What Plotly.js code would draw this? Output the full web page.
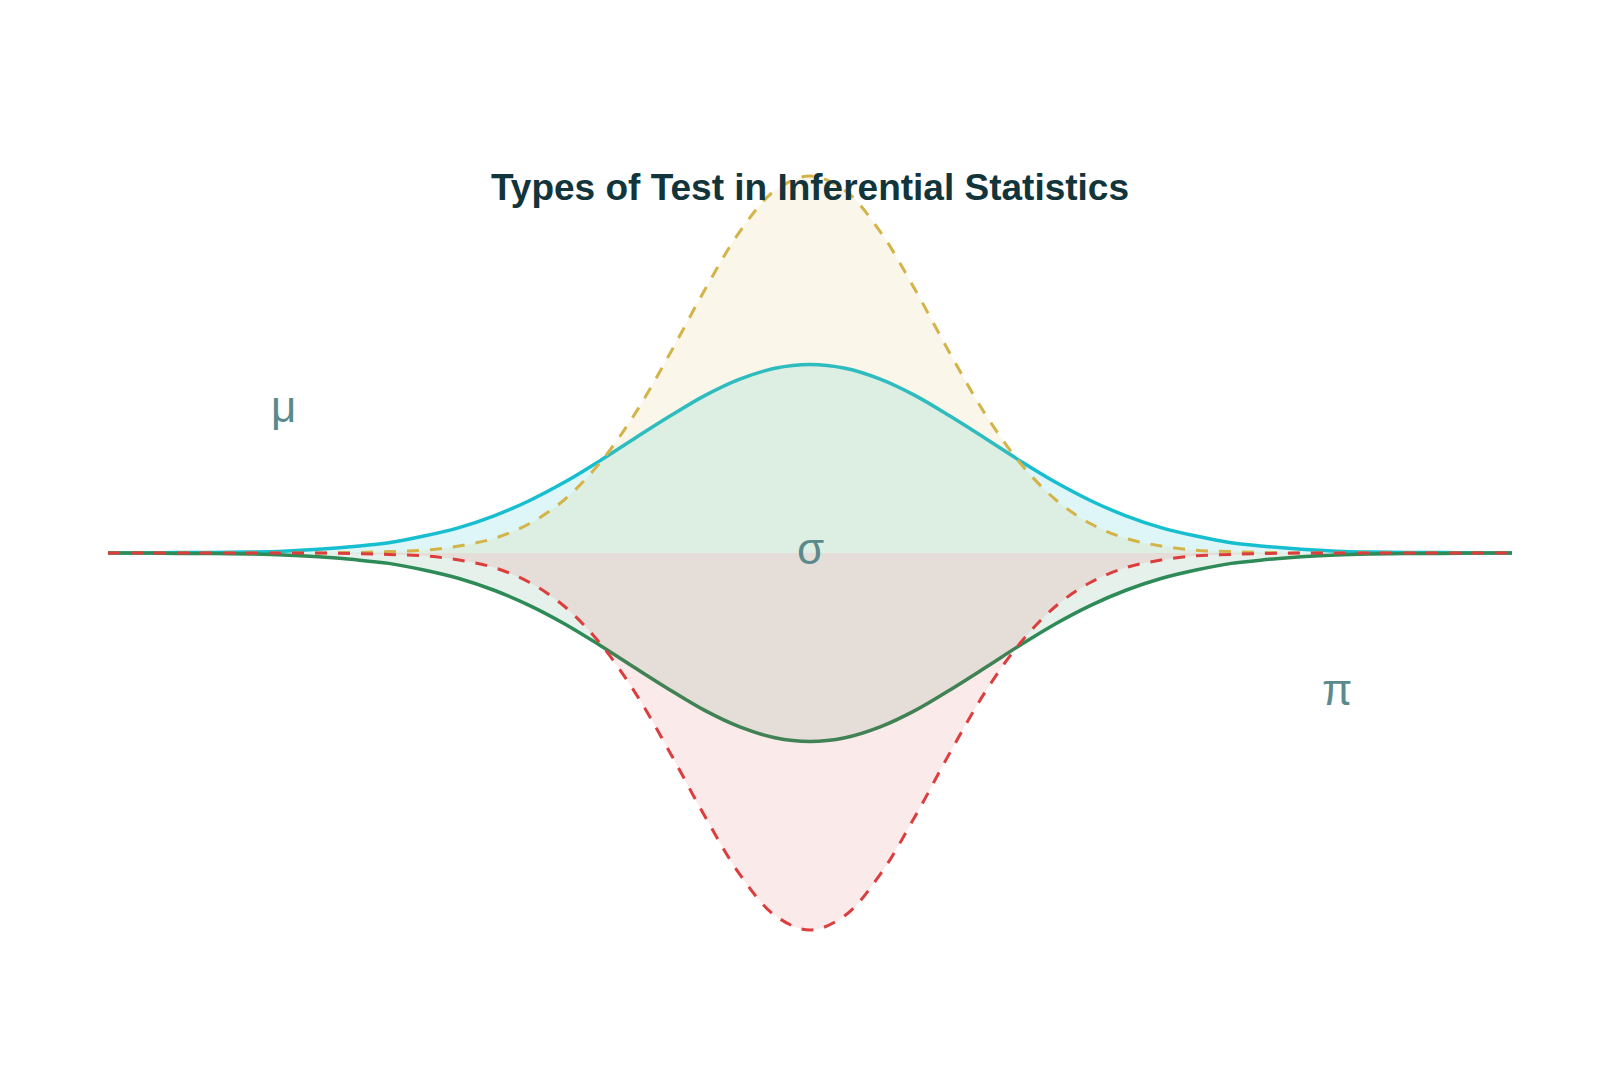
<!DOCTYPE html>
<html>
<head>
<meta charset="utf-8">
<script src="https://cdn.plot.ly/plotly-3.0.1.min.js"></script>
<style>
  html, body { margin: 0; padding: 0; background: #ffffff; }
  #chart { width: 1620px; height: 1080px; }
</style>
</head>
<body>
<div id="chart"></div>
<script>
const xValues = [-4.0, -3.8, -3.6, -3.4, -3.2, -3.0, -2.8, -2.6, -2.4, -2.2, -2.0, -1.8, -1.6, -1.4, -1.2, -1.0, -0.8, -0.6, -0.4, -0.2,
  0.0, 0.2, 0.4, 0.6, 0.8, 1.0, 1.2, 1.4, 1.6, 1.8, 2.0, 2.2, 2.4, 2.6, 2.8, 3.0, 3.2, 3.4, 3.6, 3.8, 4.0];

// wide upper curve (solid cyan)
const wideUpper = [0.000, 0.000, 0.001, 0.001, 0.002, 0.004, 0.008, 0.014, 0.022, 0.036, 0.054, 0.079, 0.111, 0.150, 0.195, 0.243, 0.290, 0.334, 0.369, 0.392,
  0.400, 0.392, 0.369, 0.334, 0.290, 0.243, 0.195, 0.150, 0.111, 0.079, 0.054, 0.036, 0.022, 0.014, 0.008, 0.004, 0.002, 0.001, 0.001, 0.000, 0.000];

// narrow upper curve (dashed gold)
const narrowUpper = [0.000, 0.000, 0.000, 0.000, 0.000, 0.000, 0.000, 0.001, 0.003, 0.006, 0.015, 0.031, 0.062, 0.113, 0.190, 0.294, 0.422, 0.558, 0.682, 0.769,
  0.800, 0.769, 0.682, 0.558, 0.422, 0.294, 0.190, 0.113, 0.062, 0.031, 0.015, 0.006, 0.003, 0.001, 0.000, 0.000, 0.000, 0.000, 0.000, 0.000, 0.000];

// wide lower curve (solid green)
const wideLower = [-0.000, -0.000, -0.001, -0.001, -0.002, -0.004, -0.008, -0.014, -0.022, -0.036, -0.054, -0.079, -0.111, -0.150, -0.195, -0.243, -0.290, -0.334, -0.369, -0.392,
  -0.400, -0.392, -0.369, -0.334, -0.290, -0.243, -0.195, -0.150, -0.111, -0.079, -0.054, -0.036, -0.022, -0.014, -0.008, -0.004, -0.002, -0.001, -0.001, -0.000, -0.000];

// narrow lower curve (dashed red)
const narrowLower = [-0.000, -0.000, -0.000, -0.000, -0.000, -0.000, -0.000, -0.001, -0.003, -0.006, -0.015, -0.031, -0.062, -0.113, -0.190, -0.294, -0.422, -0.558, -0.682, -0.769,
  -0.800, -0.769, -0.682, -0.558, -0.422, -0.294, -0.190, -0.113, -0.062, -0.031, -0.015, -0.006, -0.003, -0.001, -0.000, -0.000, -0.000, -0.000, -0.000, -0.000, -0.000];

const symbolLabels = ["μ", "σ", "π"];
const symbolX = [-3, 0, 3];
const symbolY = [0.3, 0, -0.3];

const titleText = "Types of Test in Inferential Statistics";

function curve(y, color, fill, dash, width) {
  return {
    x: xValues,
    y: y,
    type: "scatter",
    mode: "lines",
    fill: "tozeroy",
    fillcolor: fill,
    line: { color: color, width: width, dash: dash, shape: "spline", smoothing: 1 },
    hoverinfo: "skip",
  };
}

const traces = [
  curve(wideUpper, "#17becf", "rgba(23,190,207,0.14)", "solid", 3.5),
  curve(narrowUpper, "#d4b448", "rgba(212,180,72,0.12)", "12px,11px", 3),
  curve(wideLower, "#2e8b57", "rgba(46,139,87,0.12)", "solid", 3.5),
  curve(narrowLower, "#dc3d3d", "rgba(220,61,61,0.11)", "12px,11px", 3),
];

const annotations = symbolLabels.map((label, i) => ({
  x: symbolX[i],
  y: symbolY[i],
  xref: "x",
  yref: "y",
  yshift: 5,
  text: label,
  showarrow: false,
  font: { family: "Liberation Sans, Arial, sans-serif", size: 44, color: "#5b8a8c" },
}));

const layout = {
  width: 1620,
  height: 1080,
  paper_bgcolor: "#ffffff",
  plot_bgcolor: "#ffffff",
  margin: { l: 108, r: 108, t: 100, b: 80 },
  showlegend: false,
  title: {
    text: titleText,
    x: 0.5,
    xanchor: "center",
    y: 0.827,
    yanchor: "middle",
    yref: "container",
    font: { family: "Liberation Sans, Arial, sans-serif", size: 37, color: "#12343b", weight: 700 },
  },
  xaxis: { range: [-4, 4], visible: false, showgrid: false, zeroline: false },
  yaxis: { range: [-0.9485, 0.9613], visible: false, showgrid: false, zeroline: false },
  annotations: annotations,
};

Plotly.newPlot("chart", traces, layout, { displayModeBar: false, staticPlot: true });
</script>
</body>
</html>
